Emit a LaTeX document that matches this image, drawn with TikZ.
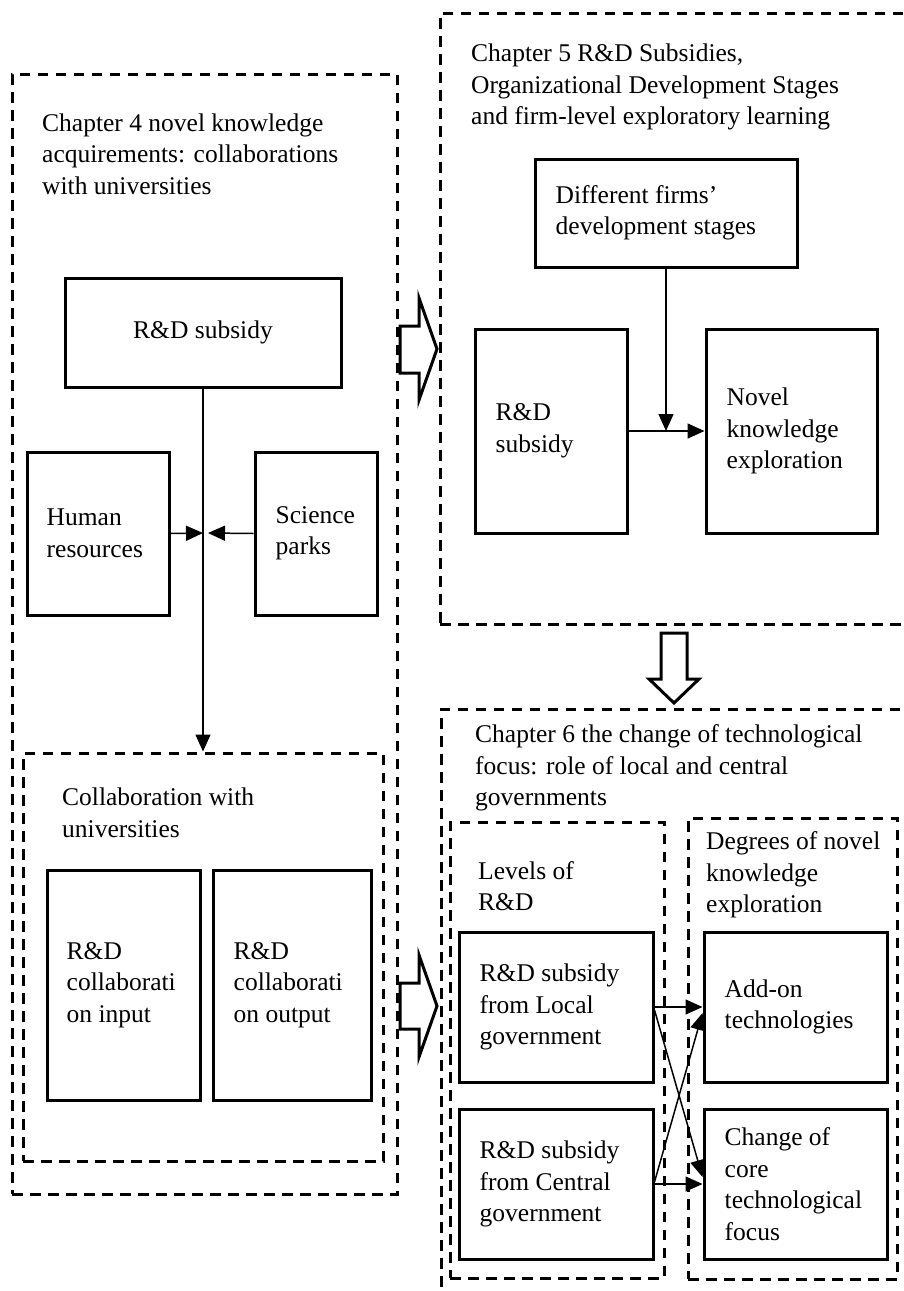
\documentclass[tikz,border=0pt]{standalone}
\usepackage{fontspec}
\setmainfont{Liberation Serif}
\usetikzlibrary{arrows.meta}
\newcommand\figfont{\fontsize{25.5}{31.5}\selectfont}
\begin{document}
\begin{tikzpicture}[x=1pt,y=-1pt,
  solidbox/.style={draw, line width=3pt, inner sep=0pt, rectangle},
  dashbox/.style={draw, line width=3pt, dash pattern=on 10.5pt off 7.5pt, inner sep=0pt, rectangle},
  txt/.style={align=left, inner sep=0pt, anchor=west, font=\figfont},
  link/.style={line width=1.5pt, -{Triangle[length=17pt,width=15pt]}},
  blockarrow/.style={draw, line width=3pt, fill=white, line join=miter},
]
\useasboundingbox (0,0) rectangle (903,1291);
\clip (0,0) rectangle (903,1291);

% ---------------- Chapter 4 ----------------
\node[dashbox, minimum width=385pt, minimum height=1120pt] (ch4) at (204.5,634) {};
\node[txt] (ch4t) at (42,154) {Chapter 4 novel knowledge\\acquirements: collaborations\\with universities};

\node[solidbox, minimum width=276pt, minimum height=109pt, font=\figfont] (rd4) at (203,332.5) {R\&D subsidy};
\node[solidbox, minimum width=142pt, minimum height=163pt] (hr) at (98,533.5) {};
\node[txt] (hrt) at ([xshift=21pt]hr.west) {Human\\resources};
\node[solidbox, minimum width=122pt, minimum height=163pt] (sp) at (316,533.5) {};
\node[txt] (spt) at ([xshift=22pt]sp.west) {Science\\parks};

\node[dashbox, minimum width=360pt, minimum height=408pt] (collab) at (203,957) {};
\node[txt] (collabt) at (62,813) {Collaboration with\\universities};
\node[solidbox, minimum width=153pt, minimum height=230pt] (cin) at (123.5,985) {};
\node[txt] (cint) at ([xshift=21pt]cin.west) {R\&D\\collaborati\\on input};
\node[solidbox, minimum width=158pt, minimum height=230pt] (cout) at (292,985) {};
\node[txt] (coutt) at ([xshift=22pt]cout.west) {R\&D\\collaborati\\on output};

\coordinate (j4) at (203,533);
\draw[link] (rd4.south) -- (collab.north);
\draw[link] (hr.east) -- (j4);
\draw[link] (sp.west) -- ([xshift=5pt]j4);

% ---------------- Chapter 5 ----------------
\node[dashbox, minimum width=466pt, minimum height=611pt] (ch5) at (673,318.5) {};
\node[txt] (ch5t) at (471,87) {Chapter 5 R\&D Subsidies,\\Organizational Development Stages\\and firm-level exploratory learning};

\node[solidbox, minimum width=262pt, minimum height=108pt] (diff) at (666,213) {};
\node[txt] (difft) at ([xshift=22pt]diff.west) {Different firms’\\development stages};
\node[solidbox, minimum width=152pt, minimum height=204pt] (rd5) at (551,431) {};
\node[txt] (rd5t) at ([xshift=22pt]rd5.west) {R\&D\\subsidy};
\node[solidbox, minimum width=171pt, minimum height=204pt] (nov) at (791.5,431) {};
\node[txt] (novt) at ([xshift=22pt]nov.west) {Novel\\knowledge\\exploration};

\coordinate (j5) at (666,431);
\draw[link] (diff.south) -- (j5);
\draw[link] (rd5.east) -- (nov.west);

% ---------------- Chapter 6 ----------------
\node[dashbox, minimum width=465pt, minimum height=591pt] (ch6) at (673.5,1004.5) {};
\node[txt] (ch6t) at (475,768) {Chapter 6 the change of technological\\focus: role of local and central\\governments};

\node[dashbox, minimum width=214pt, minimum height=456pt] (lev) at (557,1050) {};
\node[txt] (levt) at (478,886) {Levels of\\R\&D};
\node[dashbox, minimum width=209pt, minimum height=461pt] (deg) at (792.5,1048.5) {};
\node[txt] (degt) at (706,875) {Degrees of novel\\knowledge\\exploration};

\node[solidbox, minimum width=194pt, minimum height=150pt] (local) at (556,1007) {};
\node[txt] (localt) at ([xshift=22pt]local.west) {R\&D subsidy\\from Local\\government};
\node[solidbox, minimum width=194pt, minimum height=150pt] (central) at (556,1184) {};
\node[txt] (centralt) at ([xshift=22pt]central.west) {R\&D subsidy\\from Central\\government};
\node[solidbox, minimum width=183pt, minimum height=150pt] (addon) at (795.5,1007) {};
\node[txt] (addont) at ([xshift=22pt]addon.west) {Add-on\\technologies};
\node[solidbox, minimum width=183pt, minimum height=150pt] (change) at (795.5,1184) {};
\node[txt] (changet) at ([xshift=22pt]change.west) {Change of\\core\\technological\\focus};

\draw[link] (local.east) -- (addon.west);
\draw[link] (central.east) -- (change.west);
\draw[link] ([yshift=-3pt]local.east) -- ([yshift=7pt]change.west);
\draw[link] ([yshift=2pt]central.east) -- ([yshift=-6pt]addon.west);

% ---------------- block arrows between chapters ----------------
\draw[blockarrow] (400,326) -- (419,326) -- (419,298) -- (437,349) -- (419,400) -- (419,373) -- (400,373) -- cycle;
\draw[blockarrow] (400,983) -- (419,983) -- (419,955) -- (437,1006) -- (419,1057) -- (419,1029) -- (400,1029) -- cycle;
\draw[blockarrow] (661,633) -- (687,633) -- (687,679) -- (699,679) -- (674,703) -- (649,679) -- (661,679) -- cycle;
\end{tikzpicture}
\end{document}
